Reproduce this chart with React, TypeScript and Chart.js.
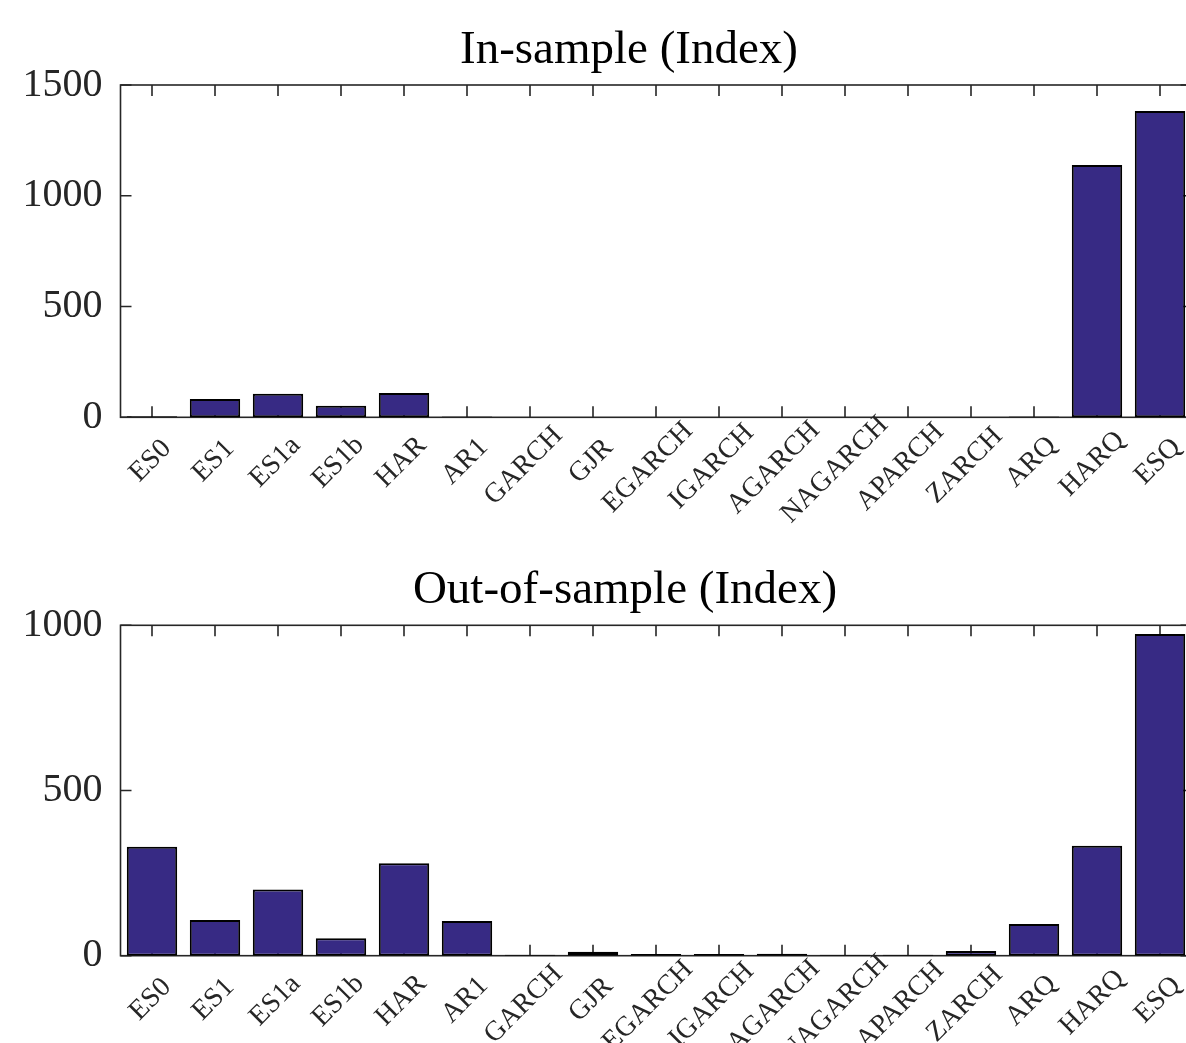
import React, { useEffect, useRef } from "react";
import { Chart, registerables } from "chart.js";

Chart.register(...registerables);

const categories = ["ES0", "ES1", "ES1a", "ES1b", "HAR", "AR1", "GARCH", "GJR", "EGARCH", "IGARCH", "AGARCH", "NAGARCH", "APARCH", "ZARCH", "ARQ", "HARQ", "ESQ"];
const inSampleValues = [5, 83, 106, 52, 110, 4, 0, 0, 0, 0, 0, 0, 0, 0, 4, 1139, 1383];
const outSampleValues = [330, 108, 200, 53, 280, 105, 3, 12, 5, 5, 6, 3, 3, 14, 96, 333, 974];
const inSampleMax = 1500;
const outSampleMax = 1000;
const tickStep = 500;
const titleIn = "In-sample (Index)";
const titleOut = "Out-of-sample (Index)";

const SERIF = "'Liberation Serif', 'Times New Roman', serif";
const AXIS_COLOR = "#262626";
const BAR_COLOR = "#372a84";

const framePlugin = {
  id: "matlabFrame",
  beforeDatasetsDraw(chart: any, _args: any, opts: any) {
    const { ctx, chartArea: a, scales } = chart;
    const x = scales.x;
    const y = scales.y;
    ctx.save();
    ctx.strokeStyle = AXIS_COLOR;
    ctx.lineWidth = 1.6;
    ctx.strokeRect(a.left, a.top, a.right - a.left, a.bottom - a.top);
    ctx.beginPath();
    const tl = 11;
    for (let i = 0; i < x.ticks.length; i++) {
      const px = x.getPixelForTick(i);
      ctx.moveTo(px, a.bottom);
      ctx.lineTo(px, a.bottom - tl);
      ctx.moveTo(px, a.top);
      ctx.lineTo(px, a.top + tl);
    }
    for (let i = 0; i < y.ticks.length; i++) {
      const py = y.getPixelForTick(i);
      ctx.moveTo(a.left, py);
      ctx.lineTo(a.left + tl, py);
      ctx.moveTo(a.right, py);
      ctx.lineTo(a.right - tl, py);
    }
    ctx.stroke();
    ctx.fillStyle = "#000";
    ctx.font = `47px ${SERIF}`;
    ctx.textAlign = "center";
    ctx.textBaseline = "alphabetic";
    ctx.fillText(opts.title || "", opts.cx || 628, a.top - 22.5);
    ctx.restore();
  },
  afterDraw(chart: any) {
    const { ctx, chartArea: a, scales } = chart;
    const x = scales.x;
    const labels = chart.data.labels as string[];
    ctx.save();
    ctx.fillStyle = AXIS_COLOR;
    ctx.font = `28px ${SERIF}`;
    ctx.textAlign = "center";
    ctx.textBaseline = "middle";
    for (let i = 0; i < x.ticks.length; i++) {
      const px = x.getPixelForTick(i);
      const text = String(labels[i]);
      const w = ctx.measureText(text).width;
      ctx.save();
      ctx.translate(px + 2.9, a.bottom + 39.3);
      ctx.rotate(-Math.PI / 4);
      ctx.fillText(text, -0.134 * w, 0);
      ctx.restore();
    }
    ctx.restore();
  },
};

function makeConfig(values: number[], max: number, title: string, cx: number, padTop: number, xHeight: number) {
  return {
    type: "bar" as const,
    data: {
      labels: categories,
      datasets: [
        {
          data: values,
          backgroundColor: BAR_COLOR,
          borderColor: "#000",
          borderWidth: 2,
          borderSkipped: false,
          barPercentage: 0.8,
          categoryPercentage: 1,
        },
      ],
    },
    options: {
      animation: false as const,
      responsive: false,
      devicePixelRatio: 1,
      layout: { padding: { top: padTop, right: 8.5, left: 0, bottom: 0 } },
      plugins: {
        legend: { display: false },
        tooltip: { enabled: false },
        title: { display: false },
        matlabFrame: { title, cx },
      },
      scales: {
        x: {
          type: "category" as const,
          offset: true,
          grid: { display: false, drawTicks: false },
          border: { display: false },
          ticks: { display: false, autoSkip: false },
          afterFit: (s: any) => {
            s.height = xHeight;
          },
        },
        y: {
          min: 0,
          max,
          grid: { display: false, drawTicks: false },
          border: { display: false },
          ticks: {
            stepSize: tickStep,
            padding: 18,
            color: AXIS_COLOR,
            font: { family: SERIF, size: 40 },
            callback: (v: any) => String(v),
          },
          afterFit: (s: any) => {
            s.width = 120.5;
          },
        },
      },
    },
    plugins: [framePlugin],
  };
}

function BarPanel(props: { values: number[]; max: number; title: string; cx: number; top: number; height: number; padTop: number; xHeight: number }) {
  const ref = useRef<HTMLCanvasElement | null>(null);
  useEffect(() => {
    if (!ref.current) return;
    const chart = new Chart(ref.current, makeConfig(props.values, props.max, props.title, props.cx, props.padTop, props.xHeight) as any);
    return () => chart.destroy();
  }, []);
  return (
    <canvas
      ref={ref}
      width={1200}
      height={props.height}
      style={{ position: "absolute", left: 0, top: props.top, width: 1200, height: props.height }}
    />
  );
}

export default function App() {
  return (
    <div
      style={{
        position: "fixed",
        left: 0,
        top: 0,
        width: 1186,
        height: 1043,
        overflow: "hidden",
        background: "#fff",
      }}
    >
      <BarPanel values={inSampleValues} max={inSampleMax} title={titleIn} cx={629} top={0} height={540} padTop={85} xHeight={122.7} />
      <BarPanel values={outSampleValues} max={outSampleMax} title={titleOut} cx={625} top={540} height={503} padTop={85.3} xHeight={87.3} />
    </div>
  );
}
